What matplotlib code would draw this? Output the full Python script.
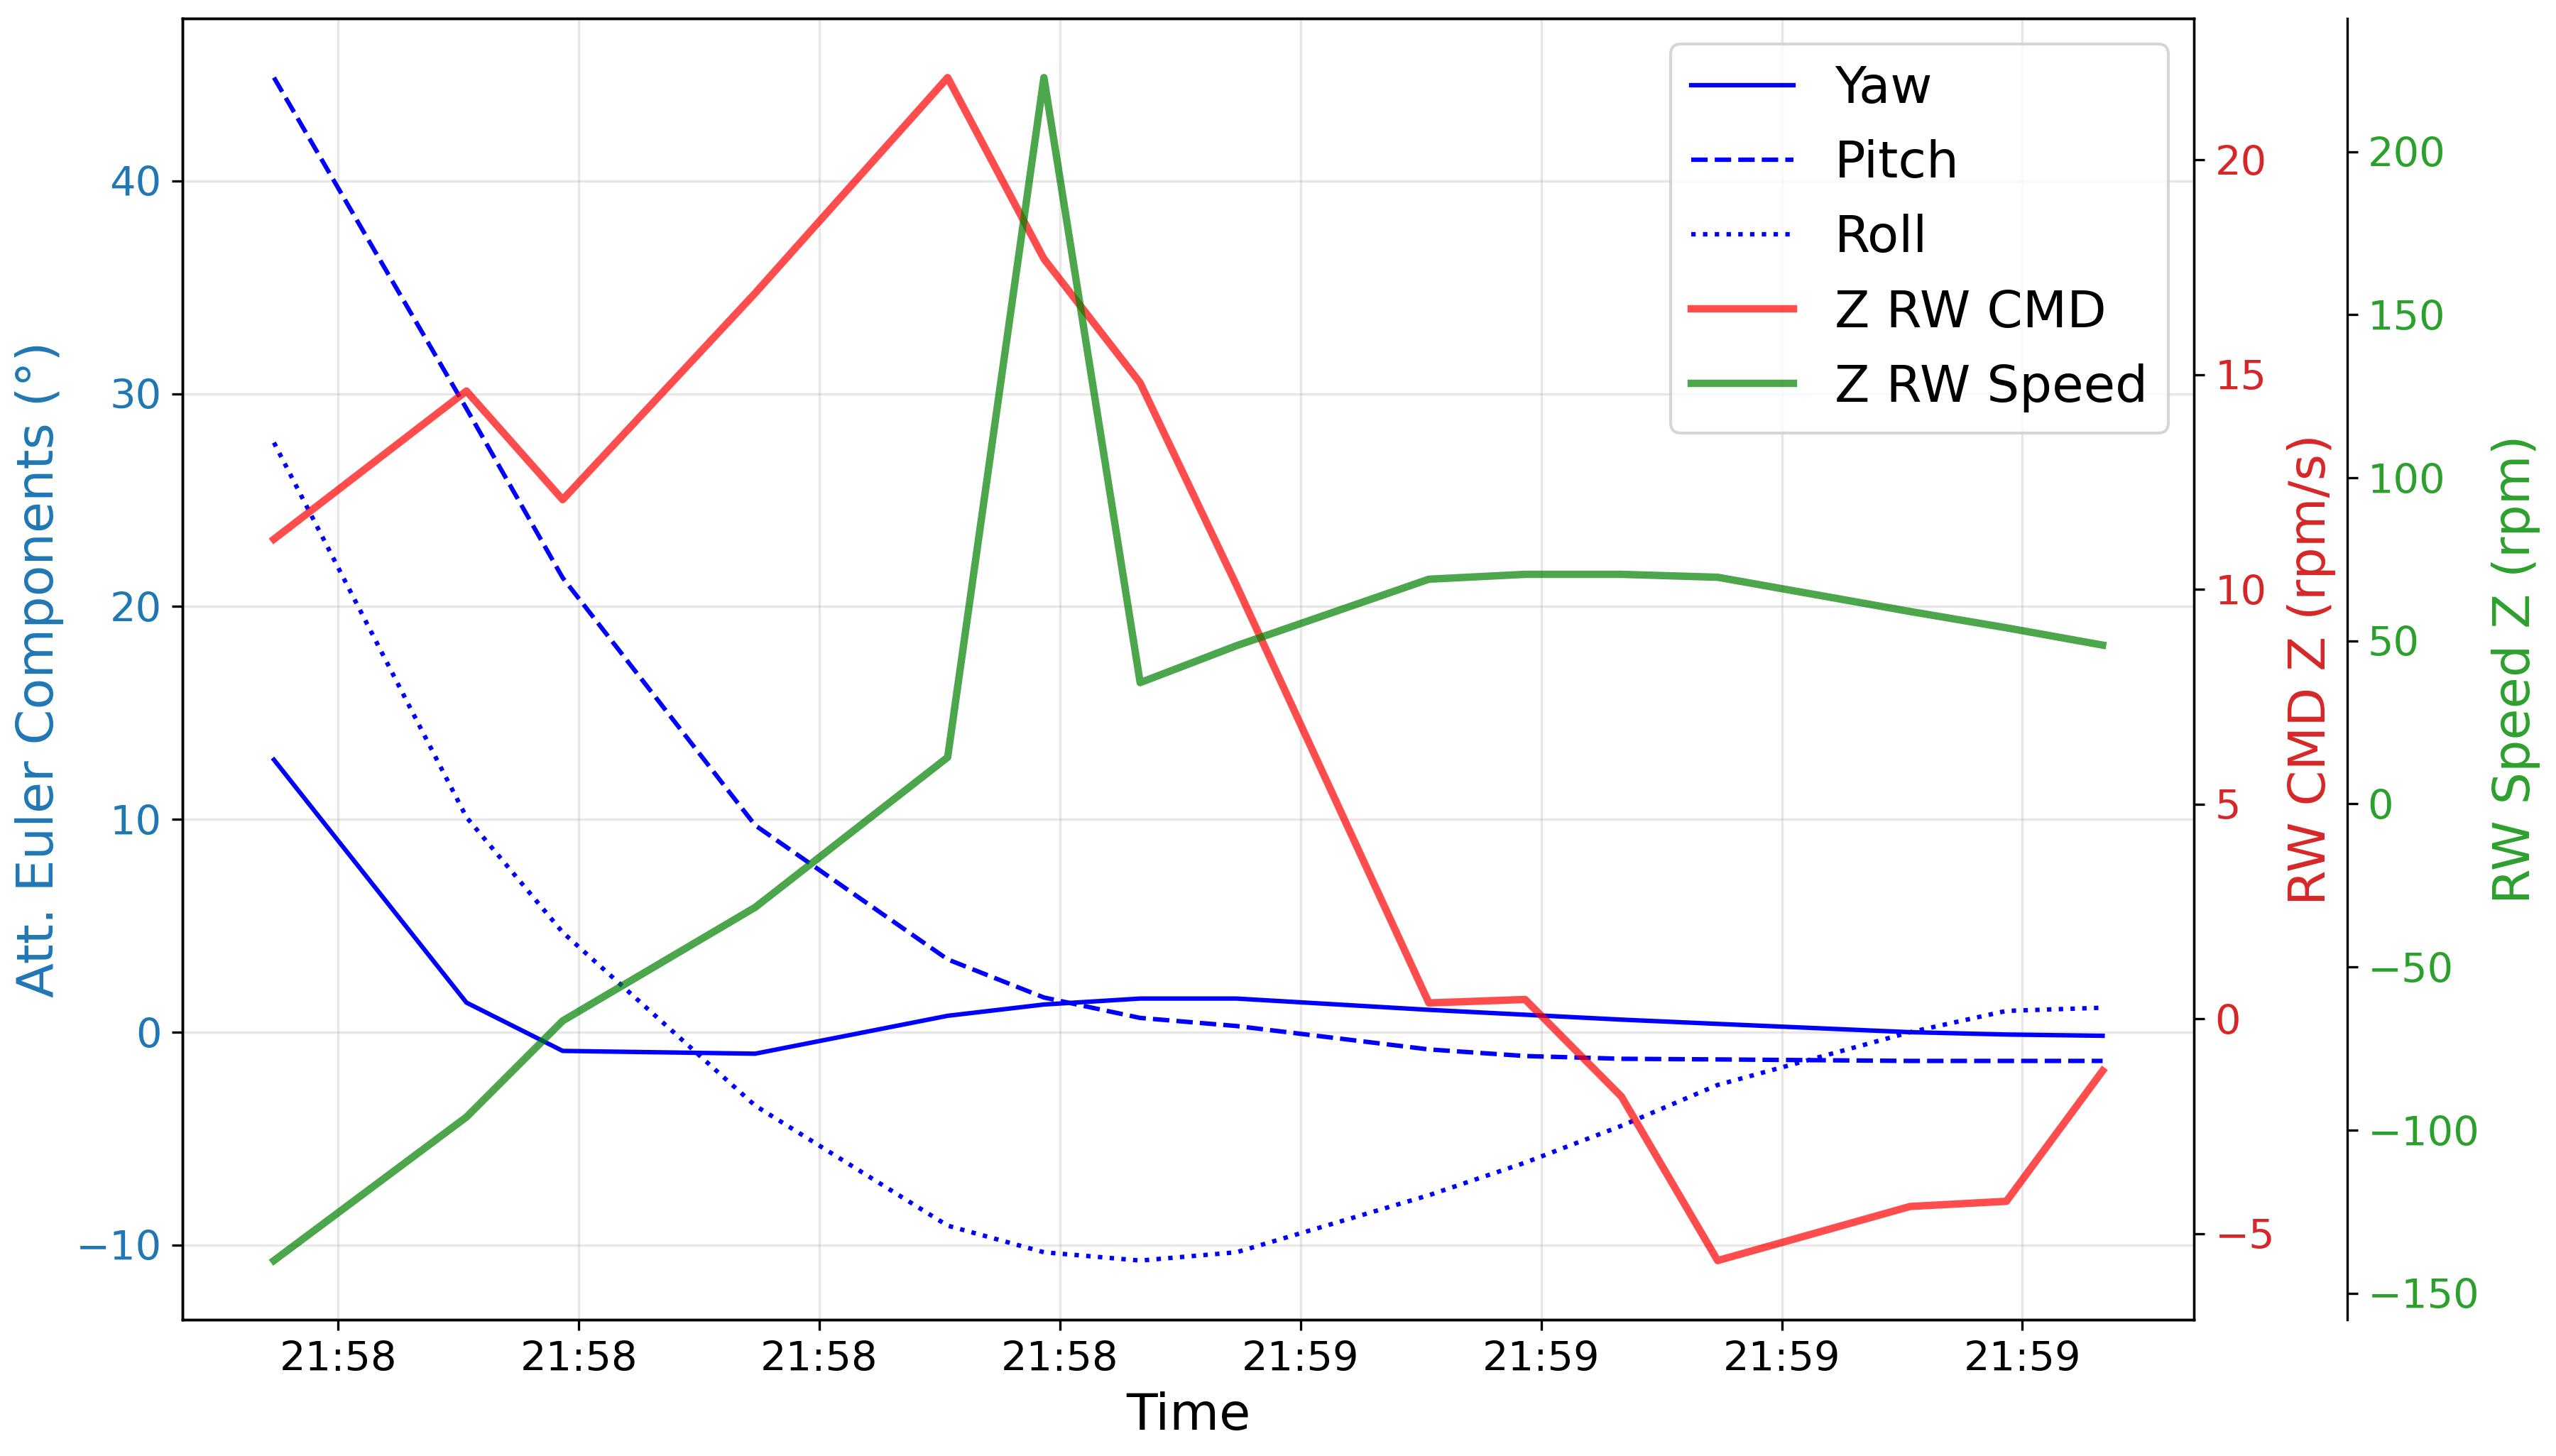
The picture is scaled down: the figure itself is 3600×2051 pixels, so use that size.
import matplotlib
matplotlib.use("Agg")
import matplotlib.pyplot as plt
import matplotlib.dates as mdates
import pandas as pd

# sample times (one value every few seconds)
times = ['21:57:56', '21:58:08', '21:58:14', '21:58:26', '21:58:38', '21:58:44',
         '21:58:50', '21:58:56', '21:59:08', '21:59:14', '21:59:20', '21:59:26',
         '21:59:38', '21:59:44', '21:59:50']

# attitude euler components (deg)
yaw = [12.8, 1.39, -0.88, -1.01, 0.77, 1.3, 1.58, 1.58, 1.05, 0.82, 0.59, 0.39, 0.0, -0.11, -0.17]
pitch = [44.85, 29.3, 21.35, 9.72, 3.42, 1.63, 0.67, 0.29, -0.81, -1.12, -1.25, -1.28, -1.35, -1.35, -1.35]
roll = [27.7, 10.1, 4.69, -3.45, -9.09, -10.34, -10.73, -10.34, -7.66, -6.13, -4.40, -2.48, 0.0, 1.0, 1.15]

# reaction wheel Z
rw_cmd = [11.17, 14.62, 12.09, 16.9, 21.92, 17.7, 14.81, 10.1, 0.37, 0.45, -1.81, -5.63, -4.37, -4.25, -1.21]
rw_speed = [-140, -96, -66.5, -31.7, 14.3, 222.7, 37.2, 48.5, 68.9, 70.4, 70.4, 69.5, 59, 54, 48.7]

t = pd.to_datetime(["2024-01-01 " + s for s in times])

TICK = 13.8
LAB = 17.2

fig = plt.figure(figsize=(12, 6.837), dpi=300)
fig.subplots_adjust(left=0.0714, right=0.8584, bottom=0.0936, top=0.9873)
ax1 = fig.add_subplot(111)

l1, = ax1.plot(t, yaw, color='b', linestyle='-', linewidth=1.5, label='Yaw')
l2, = ax1.plot(t, pitch, color='b', linestyle='--', linewidth=1.5, label='Pitch')
l3, = ax1.plot(t, roll, color='b', linestyle=':', linewidth=1.5, label='Roll')
ax1.set_xlabel('Time', fontsize=LAB)
ax1.set_ylabel('Att. Euler Components (°)', color='tab:blue', fontsize=LAB)
ax1.tick_params(axis='y', labelcolor='tab:blue', labelsize=TICK)
ax1.tick_params(axis='x', labelsize=TICK)
ax1.grid(True, alpha=0.3)
ax1.xaxis.set_major_locator(mdates.AutoDateLocator())
ax1.xaxis.set_major_formatter(mdates.DateFormatter('%H:%M'))

ax2 = ax1.twinx()
l4, = ax2.plot(t, rw_cmd, color='red', linewidth=2.5, alpha=0.7, label='Z RW CMD')
ax2.set_ylabel('RW CMD Z (rpm/s)', color='tab:red', fontsize=LAB)
ax2.tick_params(axis='y', labelcolor='tab:red', labelsize=TICK)

ax3 = ax1.twinx()
ax3.spines['right'].set_position(('axes', 1.076))
l5, = ax3.plot(t, rw_speed, color='green', linewidth=2.5, alpha=0.7, label='Z RW Speed')
ax3.set_ylabel('RW Speed Z (rpm)', color='tab:green', fontsize=LAB)
ax3.tick_params(axis='y', labelcolor='tab:green', labelsize=TICK)

lines = [l1, l2, l3, l4, l5]
ax3.legend(lines, [l.get_label() for l in lines], loc='upper right', fontsize=17.35)

plt.savefig('out.png', dpi=300)
